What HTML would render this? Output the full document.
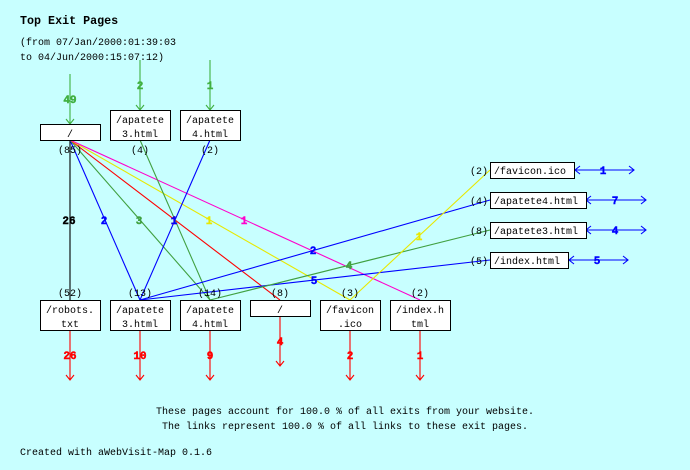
<!DOCTYPE html>
<html><head><style>
html,body{margin:0;padding:0;background:#c8ffff;}
svg{display:block}
text{font-family:"Liberation Mono","DejaVu Sans Mono",monospace;font-size:10px;}
.b text{font-size:11px;font-weight:bold;stroke-width:0.4px;}
</style></head><body>
<svg width="690" height="470" viewBox="0 0 690 470" xmlns="http://www.w3.org/2000/svg">
<rect width="690" height="470" fill="#c8ffff"/>
<text x="20" y="24" style="font-size:11.7px;font-weight:bold">Top Exit Pages</text>
<text x="20" y="45">(from 07/Jan/2000:01:39:03</text>
<text x="20" y="60">to 04/Jun/2000:15:07:12)</text>

<g fill="none" stroke-width="1.1">
<path d="M70 74V124M66 119L70 124L74 119" stroke="#40b040"/>
<path d="M140 60V110M136 105L140 110L144 105" stroke="#40b040"/>
<path d="M210 60V110M206 105L210 110L214 105" stroke="#40b040"/>
<line x1="70" y1="140" x2="70" y2="300" stroke="#000"/>
<line x1="70" y1="140" x2="140" y2="300" stroke="#0000ff"/>
<line x1="70" y1="140" x2="210" y2="300" stroke="#40a040"/>
<line x1="70" y1="140" x2="280" y2="300" stroke="#ff0000"/>
<line x1="70" y1="140" x2="350" y2="300" stroke="#e8e800"/>
<line x1="70" y1="140" x2="420" y2="300" stroke="#ff00cc"/>
<line x1="140" y1="140" x2="210" y2="300" stroke="#40a040"/>
<line x1="210" y1="140" x2="140" y2="300" stroke="#0000ff"/>
<line x1="140" y1="300" x2="490" y2="200" stroke="#0000ff"/>
<line x1="140" y1="300" x2="490" y2="260" stroke="#0000ff"/>
<line x1="210" y1="300" x2="490" y2="230" stroke="#40a040"/>
<line x1="350" y1="300" x2="490" y2="170" stroke="#e8e800"/>
<g stroke="#ff0000">
<path d="M70 330V380M66 375L70 380L74 375"/>
<path d="M140 330V380M136 375L140 380L144 375"/>
<path d="M210 330V380M206 375L210 380L214 375"/>
<path d="M280 316V366M276 361L280 366L284 361"/>
<path d="M350 330V380M346 375L350 380L354 375"/>
<path d="M420 330V380M416 375L420 380L424 375"/>
</g>
<g stroke="#0000ff">
<path d="M575 170H634M580 166L575 170L580 174M629 166L634 170L629 174"/>
<path d="M586 200H646M591 196L586 200L591 204M641 196L646 200L641 204"/>
<path d="M586 230H646M591 226L586 230L591 234M641 226L646 230L641 234"/>
<path d="M569 260H628M574 256L569 260L574 264M623 256L628 260L623 264"/>
</g>
</g>

<g fill="#fff" stroke="#000">
<rect x="40.5" y="124.5" width="60" height="16"/>
<rect x="110.5" y="110.5" width="60" height="30"/>
<rect x="180.5" y="110.5" width="60" height="30"/>
<rect x="40.5" y="300.5" width="60" height="30"/>
<rect x="110.5" y="300.5" width="60" height="30"/>
<rect x="180.5" y="300.5" width="60" height="30"/>
<rect x="250.5" y="300.5" width="60" height="16"/>
<rect x="320.5" y="300.5" width="60" height="30"/>
<rect x="390.5" y="300.5" width="60" height="30"/>
<rect x="490.5" y="162.5" width="84" height="16"/>
<rect x="490.5" y="192.5" width="96" height="16"/>
<rect x="490.5" y="222.5" width="96" height="16"/>
<rect x="490.5" y="252.5" width="78" height="16"/>
</g>

<g text-anchor="middle">
<text x="70" y="137">/</text>
<text x="140" y="123">/apatete</text><text x="140" y="137">3.html</text>
<text x="210" y="123">/apatete</text><text x="210" y="137">4.html</text>
<text x="70" y="153">(85)</text><text x="140" y="153">(4)</text><text x="210" y="153">(2)</text>
<text x="70" y="313">/robots.</text><text x="70" y="327">txt</text>
<text x="140" y="313">/apatete</text><text x="140" y="327">3.html</text>
<text x="210" y="313">/apatete</text><text x="210" y="327">4.html</text>
<text x="280" y="313">/</text>
<text x="350" y="313">/favicon</text><text x="350" y="327">.ico</text>
<text x="420" y="313">/index.h</text><text x="420" y="327">tml</text>
<text x="70" y="296">(52)</text><text x="140" y="296">(13)</text><text x="210" y="296">(14)</text>
<text x="280" y="296">(8)</text><text x="350" y="296">(3)</text><text x="420" y="296">(2)</text>
</g>
<text x="494" y="174">/favicon.ico</text>
<text x="494" y="204">/apatete4.html</text>
<text x="494" y="234">/apatete3.html</text>
<text x="494" y="264">/index.html</text>
<g text-anchor="end">
<text x="488" y="174">(2)</text><text x="488" y="204">(4)</text>
<text x="488" y="234">(8)</text><text x="488" y="264">(5)</text>
</g>

<g class="b" text-anchor="middle">
<text x="70" y="103" fill="#40b040" stroke="#40b040">49</text>
<text x="140" y="89" fill="#40b040" stroke="#40b040">2</text>
<text x="210" y="89" fill="#40b040" stroke="#40b040">1</text>
<text x="69" y="224" fill="#000" stroke="#000">26</text>
<text x="104" y="224" fill="#0000ff" stroke="#0000ff">2</text>
<text x="139" y="224" fill="#40a040" stroke="#40a040">3</text>
<text x="174" y="224" fill="#ff0000" stroke="#ff0000">1</text>
<text x="174" y="224" fill="#0000ff" stroke="#0000ff">1</text>
<text x="209" y="224" fill="#e8e800" stroke="#e8e800">1</text>
<text x="244" y="224" fill="#ff00cc" stroke="#ff00cc">1</text>
<text x="313" y="254" fill="#0000ff" stroke="#0000ff">2</text>
<text x="349" y="269" fill="#40a040" stroke="#40a040">4</text>
<text x="314" y="284" fill="#0000ff" stroke="#0000ff">5</text>
<text x="419" y="240" fill="#e8e800" stroke="#e8e800">1</text>
<text x="70" y="359" fill="#ff0000" stroke="#ff0000">26</text>
<text x="140" y="359" fill="#ff0000" stroke="#ff0000">10</text>
<text x="210" y="359" fill="#ff0000" stroke="#ff0000">9</text>
<text x="280" y="345" fill="#ff0000" stroke="#ff0000">4</text>
<text x="350" y="359" fill="#ff0000" stroke="#ff0000">2</text>
<text x="420" y="359" fill="#ff0000" stroke="#ff0000">1</text>
<text x="603" y="174" fill="#0000ff" stroke="#0000ff">1</text>
<text x="615" y="204" fill="#0000ff" stroke="#0000ff">7</text>
<text x="615" y="234" fill="#0000ff" stroke="#0000ff">4</text>
<text x="597" y="264" fill="#0000ff" stroke="#0000ff">5</text>
</g>

<text x="345" y="414" text-anchor="middle">These pages account for 100.0 % of all exits from your website.</text>
<text x="345" y="429" text-anchor="middle">The links represent 100.0 % of all links to these exit pages.</text>
<text x="20" y="455">Created with aWebVisit-Map 0.1.6</text>
</svg>
</body></html>
